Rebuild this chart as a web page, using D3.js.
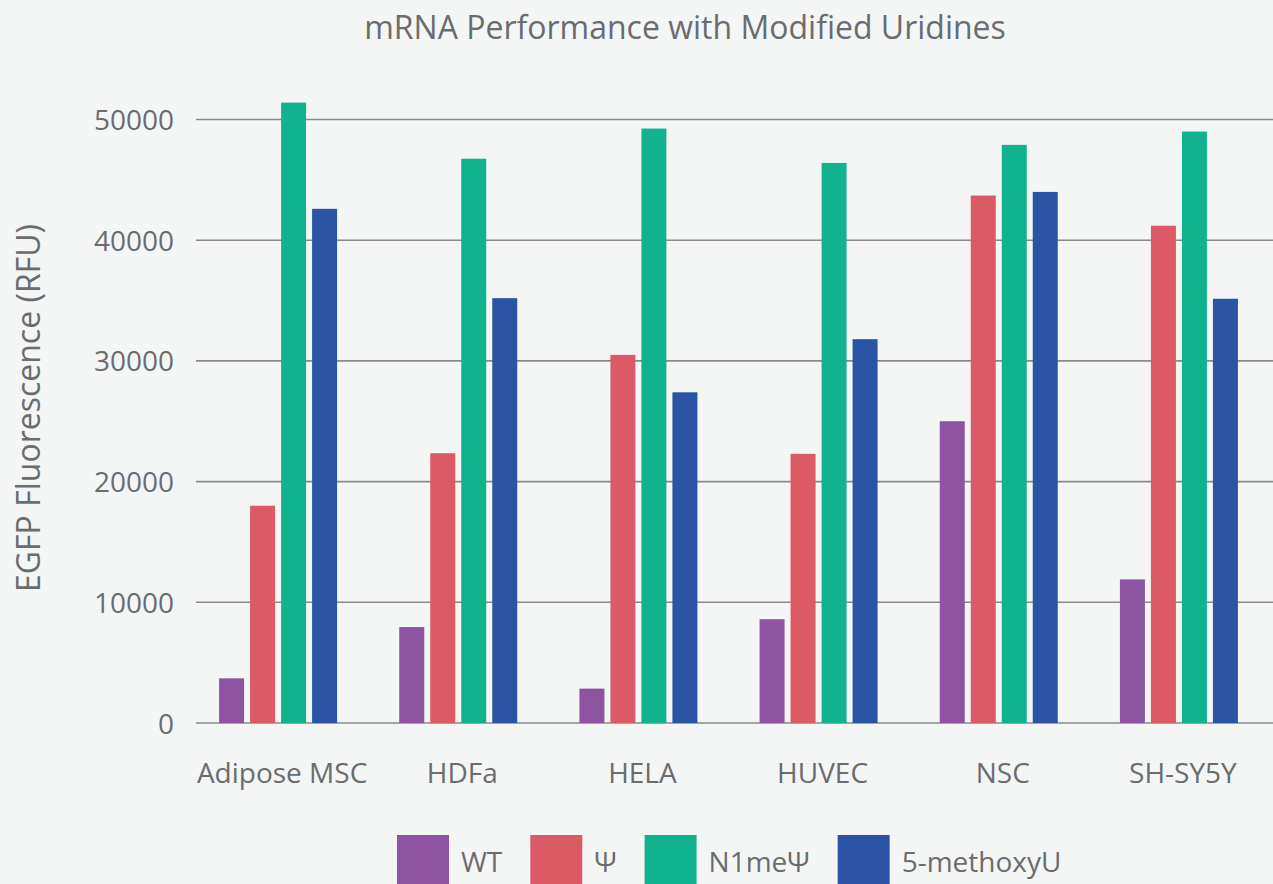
<!DOCTYPE html>
<html>
<head>
<meta charset="utf-8">
<script src="https://cdn.jsdelivr.net/npm/d3@7"></script>
<style>
  body { margin: 0; background: #f4f6f6; }
  svg { display: block; font-family: "Open Sans", sans-serif; }
</style>
</head>
<body>
<div id="chart"></div>
<script>
let celulas = ["Adipose MSC", "HDFa", "HELA", "HUVEC", "NSC", "SH-SY5Y"];
let series = ["WT", "Ψ", "N1meΨ", "5-methoxyU"];
let wt      = [3700, 7950, 2850, 8600, 25000, 11900];
let psi     = [18000, 22350, 30500, 22300, 43700, 41200];
let n1mepsi = [51400, 46750, 49250, 46400, 47900, 49000];
let metoxi  = [42600, 35200, 27400, 31800, 44000, 35150];
let yTicks  = [0, 10000, 20000, 30000, 40000, 50000];
let cores   = ["#8c54a1", "#db5a66", "#11b38e", "#2b55a4"];

let larg = 1273;
let alt = 884;
let cinza = "#6b6c6e";
let fonte = "'Open Sans', sans-serif";

let valores = [wt, psi, n1mepsi, metoxi];
let dados = [];
celulas.forEach((c, i) => {
    series.forEach((s, j) => {
        dados.push({cel: c, serie: s, valor: valores[j][i]});
    });
});

let canvas = d3.select("#chart")
                .append("svg")
                .attr("width", larg)
                .attr("height", alt);

canvas.append("rect")
        .attr("width", larg)
        .attr("height", alt)
        .attr("fill", "#f4f6f6");

var escalaX = d3.scaleBand()
                .domain(celulas)
                .range([188, 1269]);

var escalaSub = d3.scaleBand()
                .domain(series)
                .range([0, 118])
                .paddingInner(6/31);

var escalaY = d3.scaleLinear()
                .domain([0, 50000])
                .range([723, 119.5]);

var cor = d3.scaleOrdinal()
                .domain(series)
                .range(cores);

// grade
canvas.append("g")
        .selectAll("line")
        .data(yTicks)
        .enter()
            .append("line")
            .attr("x1", 196)
            .attr("x2", larg)
            .attr("y1", d => escalaY(d))
            .attr("y2", d => escalaY(d))
            .attr("stroke", "#8a8a8a")
            .attr("stroke-width", 1.6);

// eixo y
var eixoY = d3.axisLeft(escalaY)
                .tickValues(yTicks)
                .tickSize(0)
                .tickPadding(22)
                .tickFormat(d3.format("d"));

canvas.append("g")
        .attr("transform", "translate(196,0)")
        .call(eixoY)
        .attr("font-family", fonte)
        .call(g => g.select(".domain").remove())
        .selectAll("text")
            .style("font-size", "28px")
            .attr("fill", cinza)
            .attr("dy", "0.36em");

// barras
var offset = (escalaX.bandwidth() - 118) / 2;
canvas.append("g")
        .selectAll("rect")
        .data(dados)
        .enter()
            .append("rect")
            .attr("x", d => escalaX(d.cel) + offset + escalaSub(d.serie))
            .attr("width", escalaSub.bandwidth())
            .attr("y", d => escalaY(d.valor))
            .attr("height", d => escalaY(0) - escalaY(d.valor))
            .attr("fill", d => cor(d.serie));

// eixo x
var eixoX = d3.axisBottom(escalaX)
                .tickSize(0)
                .tickPadding(0);

canvas.append("g")
        .attr("transform", "translate(4,783)")
        .call(eixoX)
        .attr("font-family", fonte)
        .call(g => g.select(".domain").remove())
        .selectAll("text")
            .style("font-size", "28px")
            .attr("fill", cinza)
            .attr("dy", "0");

// titulo
canvas.append("text")
        .attr("x", 685)
        .attr("y", 39)
        .attr("text-anchor", "middle")
        .style("font-size", "32px")
        .attr("fill", cinza)
        .text("mRNA Performance with Modified Uridines");

// titulo eixo y
canvas.append("text")
        .attr("transform", "translate(40,408) rotate(-90)")
        .attr("text-anchor", "middle")
        .style("font-size", "32px")
        .attr("fill", cinza)
        .text("EGFP Fluorescence (RFU)");

// legenda
let legenda = canvas.append("g");
let xLeg = 397;
series.forEach((s, i) => {
    legenda.append("rect")
        .attr("x", xLeg)
        .attr("y", 835)
        .attr("width", 52)
        .attr("height", 52)
        .attr("fill", cores[i]);
    let t = legenda.append("text")
        .attr("x", xLeg + 64)
        .attr("y", 872)
        .style("font-size", "28px")
        .attr("fill", cinza)
        .text(s);
    xLeg = xLeg + 64 + t.node().getComputedTextLength() + 28;
});
</script>
</body>
</html>
